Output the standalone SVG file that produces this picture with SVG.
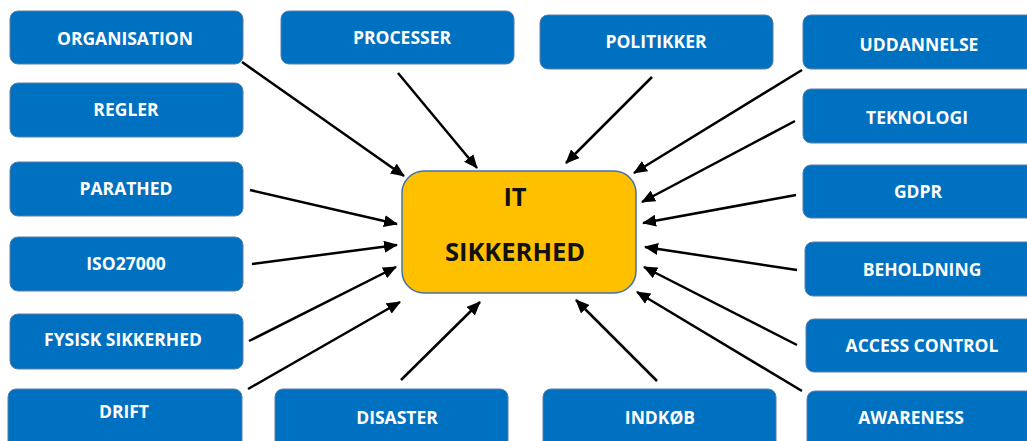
<svg xmlns="http://www.w3.org/2000/svg" width="1027" height="441" viewBox="0 0 1027 441">
  <style>
    .box { fill: #0070C0; stroke: #5B7FA8; stroke-width: 1; }
    .lbl { fill: #FFFFFF; font-family: "Open Sans", "Liberation Sans", sans-serif; font-weight: 700; font-size: 17.5px; text-anchor: middle; }
    .hub { fill: #FFC000; stroke: #4472A8; stroke-width: 1.5; }
    .hubtxt { fill: #111111; font-family: "Open Sans", "Liberation Sans", sans-serif; font-weight: 700; font-size: 25.5px; text-anchor: middle; }
    .conn { stroke: #000000; stroke-width: 2.5; fill: none; marker-end: url(#arrow); }
  </style>
  <defs>
    <marker id="arrow" markerUnits="userSpaceOnUse" markerWidth="14" markerHeight="12" refX="13" refY="6" orient="auto">
      <path d="M0,0 L14,6 L0,12 Z" fill="#000000"/>
    </marker>
  </defs>
  <rect width="1027" height="441" fill="#FFFFFF"/>

  <!-- connectors -->
  <g id="connectors">
    <line class="conn" x1="242" y1="62" x2="404" y2="176"/>
    <line class="conn" x1="398" y1="73" x2="477" y2="168"/>
    <line class="conn" x1="652" y1="77" x2="566" y2="163"/>
    <line class="conn" x1="802" y1="70" x2="634" y2="173"/>
    <line class="conn" x1="795" y1="121" x2="642" y2="202"/>
    <line class="conn" x1="796" y1="195" x2="643" y2="223"/>
    <line class="conn" x1="797" y1="270" x2="645" y2="247"/>
    <line class="conn" x1="797" y1="345" x2="644" y2="267"/>
    <line class="conn" x1="802" y1="391" x2="637" y2="292"/>
    <line class="conn" x1="657" y1="381" x2="576" y2="300"/>
    <line class="conn" x1="401" y1="380" x2="480" y2="302"/>
    <line class="conn" x1="248" y1="389" x2="400" y2="302"/>
    <line class="conn" x1="249" y1="341" x2="396" y2="267"/>
    <line class="conn" x1="252" y1="264" x2="397" y2="245"/>
    <line class="conn" x1="250" y1="190" x2="397" y2="224"/>
  </g>

  <!-- central node -->
  <g id="it-sikkerhed">
    <rect class="hub" x="402" y="171" width="234" height="122" rx="22"/>
    <text class="hubtxt" x="515" y="206">IT</text>
    <text class="hubtxt" x="515" y="261">SIKKERHED</text>
  </g>

  <!-- left column -->
  <g id="organisation">
    <rect class="box" x="10" y="11" width="233" height="53" rx="8"/>
    <text class="lbl" x="125" y="44.5">ORGANISATION</text>
  </g>
  <g id="regler">
    <rect class="box" x="10" y="83" width="233" height="54" rx="8"/>
    <text class="lbl" x="126" y="115.5">REGLER</text>
  </g>
  <g id="parathed">
    <rect class="box" x="10" y="162" width="233" height="54" rx="8"/>
    <text class="lbl" x="126" y="195">PARATHED</text>
  </g>
  <g id="iso27000">
    <rect class="box" x="10" y="237" width="233" height="54" rx="8"/>
    <text class="lbl" x="126" y="270">ISO27000</text>
  </g>
  <g id="fysisk-sikkerhed">
    <rect class="box" x="10" y="314" width="233" height="55" rx="8"/>
    <text class="lbl" x="123" y="346">FYSISK SIKKERHED</text>
  </g>
  <g id="drift">
    <rect class="box" x="8" y="389" width="234" height="60" rx="8"/>
    <text class="lbl" x="124" y="418">DRIFT</text>
  </g>

  <!-- top row -->
  <g id="processer">
    <rect class="box" x="281" y="11" width="233" height="53" rx="8"/>
    <text class="lbl" x="402" y="44">PROCESSER</text>
  </g>
  <g id="politikker">
    <rect class="box" x="540" y="15" width="233" height="54" rx="8"/>
    <text class="lbl" x="656" y="48">POLITIKKER</text>
  </g>

  <!-- right column -->
  <g id="uddannelse">
    <rect class="box" x="803" y="15" width="240" height="54" rx="8"/>
    <text class="lbl" x="919" y="51">UDDANNELSE</text>
  </g>
  <g id="teknologi">
    <rect class="box" x="803" y="89" width="240" height="54" rx="8"/>
    <text class="lbl" x="917" y="124">TEKNOLOGI</text>
  </g>
  <g id="gdpr">
    <rect class="box" x="803" y="165" width="240" height="53" rx="8"/>
    <text class="lbl" x="918" y="198">GDPR</text>
  </g>
  <g id="beholdning">
    <rect class="box" x="805" y="242" width="240" height="54" rx="8"/>
    <text class="lbl" x="922" y="276">BEHOLDNING</text>
  </g>
  <g id="access-control">
    <rect class="box" x="806" y="319" width="240" height="53" rx="8"/>
    <text class="lbl" x="922" y="352">ACCESS CONTROL</text>
  </g>
  <g id="awareness">
    <rect class="box" x="807" y="391" width="240" height="60" rx="8"/>
    <text class="lbl" x="911" y="424">AWARENESS</text>
  </g>

  <!-- bottom row -->
  <g id="disaster">
    <rect class="box" x="275" y="389" width="233" height="60" rx="8"/>
    <text class="lbl" x="397" y="424">DISASTER</text>
  </g>
  <g id="indkob">
    <rect class="box" x="543" y="389" width="233" height="60" rx="8"/>
    <text class="lbl" x="660" y="424">INDKØB</text>
  </g>
</svg>
